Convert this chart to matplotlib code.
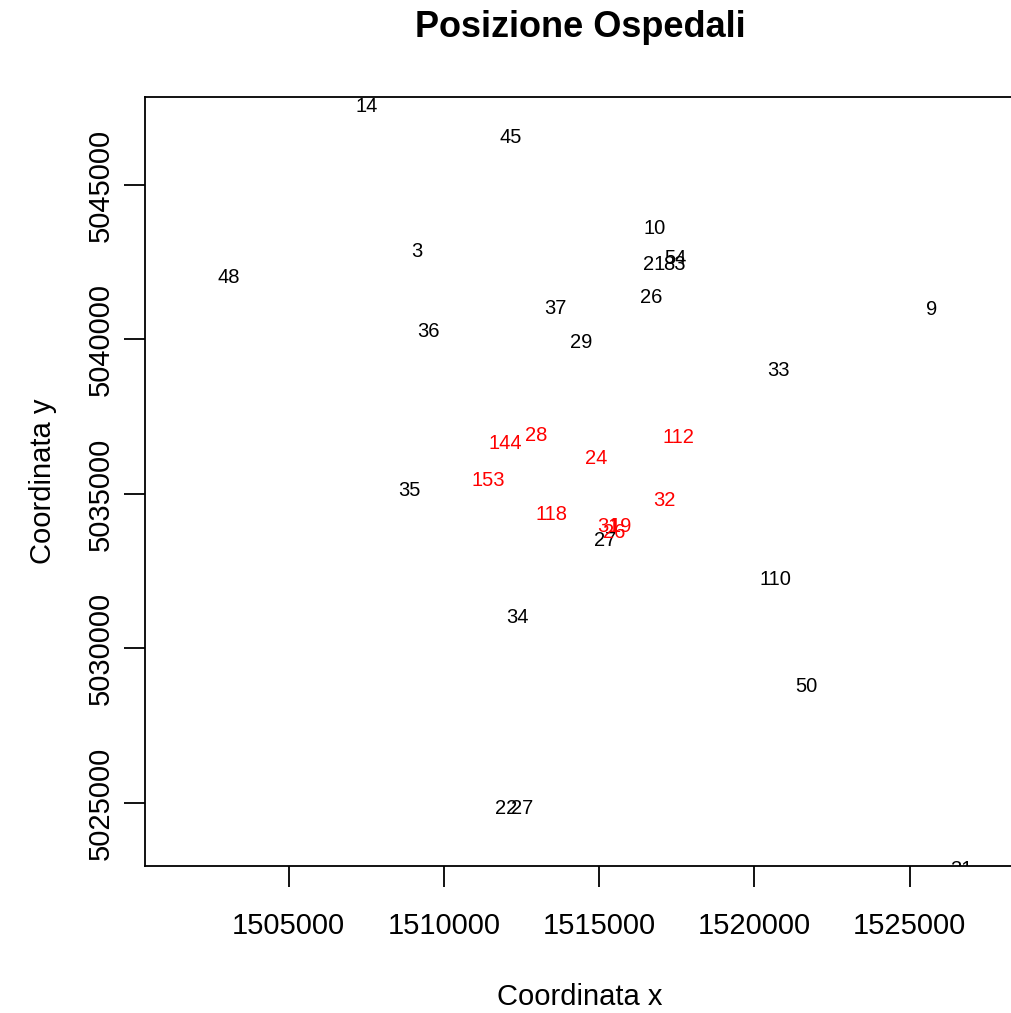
import matplotlib
matplotlib.use("Agg")
import matplotlib.pyplot as plt

plt.rcParams['font.family'] = ['Liberation Sans', 'DejaVu Sans']

# hospital labels and coordinates
labels = ["14", "45", "10", "54", "21", "83", "3", "48", "26", "9", "37", "36",
          "29", "33", "35", "27", "110", "34", "50", "22", "27", "31"]
xs = [1507520, 1512141, 1516793, 1517472, 1516761, 1517407, 1509136, 1503061,
      1516664, 1525711, 1513595, 1509491, 1514435, 1520767, 1508877, 1515178,
      1520671, 1512367, 1521672, 1512011, 1512528, 1526648]
ys = [5047524, 5046521, 5043576, 5042605, 5042411, 5042411, 5042832, 5041990,
      5041343, 5040955, 5040987, 5040243, 5039887, 5038981, 5035097, 5033479,
      5032217, 5031019, 5028754, 5024838, 5024838, 5022833]

# highlighted (red) hospitals
red_labels = ["144", "28", "112", "24", "153", "32", "118", "31", "19", "26"]
red_xs = [1511979, 1512981, 1517569, 1514919, 1511430, 1517117, 1513465,
          1515307, 1515695, 1515469]
red_ys = [5036618, 5036877, 5036812, 5036133, 5035421, 5034773, 5034320,
          5033932, 5033932, 5033738]

xticks = [1505000, 1510000, 1515000, 1520000, 1525000]
yticks = [5025000, 5030000, 5035000, 5040000, 5045000]

fig = plt.figure(figsize=(10.12, 10.13), dpi=100)
ax = fig.add_axes([0.1433, 0.1451, 0.8600, 0.7592])

for lab, x, y in zip(labels, xs, ys):
    ax.text(x, y, lab, color="black", fontsize=14.5, ha="center", va="center", clip_on=True)
for lab, x, y in zip(red_labels, red_xs, red_ys):
    ax.text(x, y, lab, color="red", fontsize=14.5, ha="center", va="center", clip_on=True)

ax.set_xlim(1500380, 1528400)
ax.set_ylim(5022961, 5047848)
ax.set_xticks(xticks)
ax.set_yticks(yticks)
ax.set_xticklabels([str(v) for v in xticks])
ax.set_yticklabels([str(v) for v in yticks], rotation=90, va="center")
ax.tick_params(direction="out", length=15, width=1.3, labelsize=21, pad=18)
ax.tick_params(axis="y", pad=7)
for s in ax.spines.values():
    s.set_linewidth(1.3)

ax.set_xlabel("Coordinata x", fontsize=21, labelpad=31)
ax.set_ylabel("Coordinata y", fontsize=21, labelpad=21)
ax.set_title("Posizione Ospedali", fontsize=26, fontweight="bold", pad=43)

fig.savefig("out.png", dpi=100)
